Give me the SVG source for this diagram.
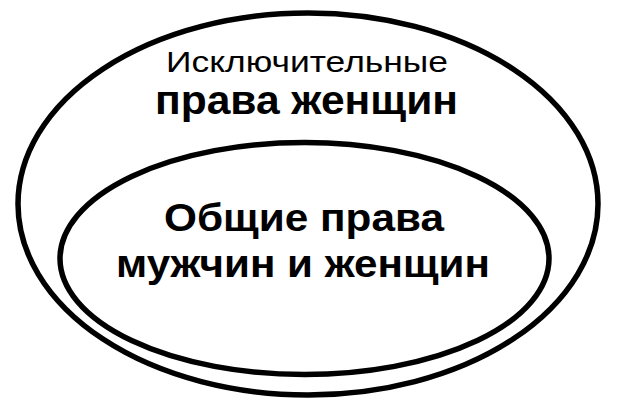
<svg xmlns="http://www.w3.org/2000/svg" width="624" height="415" viewBox="0 0 624 415">
<style>
.ell{fill:none;stroke:#000;stroke-width:5.5}
.t{font-family:"Liberation Sans",Arial,sans-serif;fill:#000}
.reg{font-size:29px}
.b{font-size:39px;font-weight:bold}
.b2{font-size:40px;font-weight:bold}
</style>
<rect width="624" height="415" fill="#fff"/>
<g id="outer">
<ellipse class="ell" cx="308" cy="204" rx="290" ry="191"/>
<text class="t reg" x="166" y="72" textLength="282" lengthAdjust="spacingAndGlyphs">Исключительные</text>
<text class="t b2" x="155" y="114" textLength="303" lengthAdjust="spacingAndGlyphs">права женщин</text>
</g>
<g id="inner">
<ellipse class="ell" cx="304.5" cy="258.5" rx="244.5" ry="116"/>
<text class="t b" x="164" y="231" textLength="280" lengthAdjust="spacingAndGlyphs">Общие права</text>
<text class="t b" x="116" y="277" textLength="374" lengthAdjust="spacingAndGlyphs">мужчин и женщин</text>
</g>
<g id="connectors"></g>
</svg>
